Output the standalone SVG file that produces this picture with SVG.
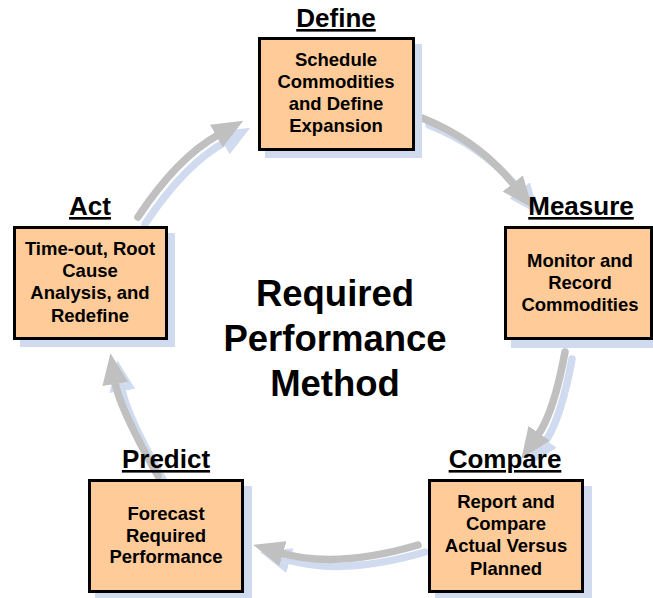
<svg xmlns="http://www.w3.org/2000/svg" xmlns:xlink="http://www.w3.org/1999/xlink" width="653" height="598" viewBox="0 0 653 598">
<style>
  text { font-family: "Liberation Sans", Arial, sans-serif; font-weight: bold; fill: #000; text-anchor: middle; }
  .lbl { font-size: 26px; text-decoration: underline; }
  .body { font-size: 18.5px; }
  .title { font-size: 36.5px; }
  .box { fill: #ffcc99; stroke: #000; stroke-width: 3; }
  .bshadow { fill: #d0dbf0; }
  .arrow { fill: none; stroke: #c0c0c0; stroke-width: 7.5; stroke-linecap: round; marker-end: url(#headGray); }
  .ashadow { fill: none; stroke: #d0dbf0; stroke-width: 7.5; stroke-linecap: round; marker-end: url(#headBlue); }
</style>
<defs>
  <marker id="headGray" markerUnits="userSpaceOnUse" viewBox="0 0 31 26" markerWidth="31" markerHeight="26" refX="2" refY="13" orient="auto">
    <path d="M0,0 L31,13 L0,26 Z" fill="#c0c0c0"/>
  </marker>
  <marker id="headBlue" markerUnits="userSpaceOnUse" viewBox="0 0 31 26" markerWidth="31" markerHeight="26" refX="2" refY="13" orient="auto">
    <path d="M0,0 L31,13 L0,26 Z" fill="#d0dbf0"/>
  </marker>
  <path id="p1" d="M422,118 Q478.6,140.6 514,185"/>
  <path id="p2" d="M565,352 Q554,412 538,435"/>
  <path id="p3" d="M418,545 Q336,569 281,553"/>
  <path id="p4" d="M158,476 Q119,407 115,382"/>
  <path id="p5" d="M138,217 Q177,158 218,135"/>
</defs>
<rect width="653" height="598" fill="#ffffff"/>

<g id="connectors">
  <use xlink:href="#p1" href="#p1" class="ashadow" transform="translate(7,7)"/>
  <use xlink:href="#p2" href="#p2" class="ashadow" transform="translate(7,7)"/>
  <use xlink:href="#p3" href="#p3" class="ashadow" transform="translate(7,7)"/>
  <use xlink:href="#p4" href="#p4" class="ashadow" transform="translate(7,7)"/>
  <use xlink:href="#p5" href="#p5" class="ashadow" transform="translate(7,7)"/>
  <use xlink:href="#p1" href="#p1" class="arrow"/>
  <use xlink:href="#p2" href="#p2" class="arrow"/>
  <use xlink:href="#p3" href="#p3" class="arrow"/>
  <use xlink:href="#p4" href="#p4" class="arrow"/>
  <use xlink:href="#p5" href="#p5" class="arrow"/>
</g>

<g id="define">
  <rect class="bshadow" x="265" y="44" width="157" height="114"/>
  <rect class="box" x="259.5" y="38.5" width="154" height="111"/>
  <text class="lbl" x="336" y="27">Define</text>
  <text class="body" x="336" y="66">Schedule</text>
  <text class="body" x="336" y="88">Commodities</text>
  <text class="body" x="336" y="110">and Define</text>
  <text class="body" x="336" y="132">Expansion</text>
</g>

<g id="measure">
  <rect class="bshadow" x="511" y="233" width="149" height="115"/>
  <rect class="box" x="505.5" y="227.5" width="146" height="111"/>
  <text class="lbl" x="581" y="215">Measure</text>
  <text class="body" x="580" y="267">Monitor and</text>
  <text class="body" x="580" y="289">Record</text>
  <text class="body" x="580" y="311">Commodities</text>
</g>

<g id="compare">
  <rect class="bshadow" x="435" y="486" width="157" height="114"/>
  <rect class="box" x="429.5" y="480.5" width="153" height="111"/>
  <text class="lbl" x="505" y="468">Compare</text>
  <text class="body" x="506" y="508">Report and</text>
  <text class="body" x="506" y="530">Compare</text>
  <text class="body" x="506" y="552">Actual Versus</text>
  <text class="body" x="506" y="575">Planned</text>
</g>

<g id="predict">
  <rect class="bshadow" x="95" y="486" width="157" height="114"/>
  <rect class="box" x="89.5" y="480.5" width="153" height="111"/>
  <text class="lbl" x="166" y="468">Predict</text>
  <text class="body" x="166" y="520">Forecast</text>
  <text class="body" x="166" y="542">Required</text>
  <text class="body" x="166" y="563">Performance</text>
</g>

<g id="act">
  <rect class="bshadow" x="20" y="233" width="155" height="114"/>
  <rect class="box" x="14.5" y="227.5" width="152" height="111"/>
  <text class="lbl" x="90" y="215">Act</text>
  <text class="body" x="90" y="255">Time-out, Root</text>
  <text class="body" x="90" y="277">Cause</text>
  <text class="body" x="90" y="299">Analysis, and</text>
  <text class="body" x="90" y="322">Redefine</text>
</g>

<g id="title">
  <text class="title" x="335" y="306">Required</text>
  <text class="title" x="335" y="351">Performance</text>
  <text class="title" x="335" y="396">Method</text>
</g>
</svg>
